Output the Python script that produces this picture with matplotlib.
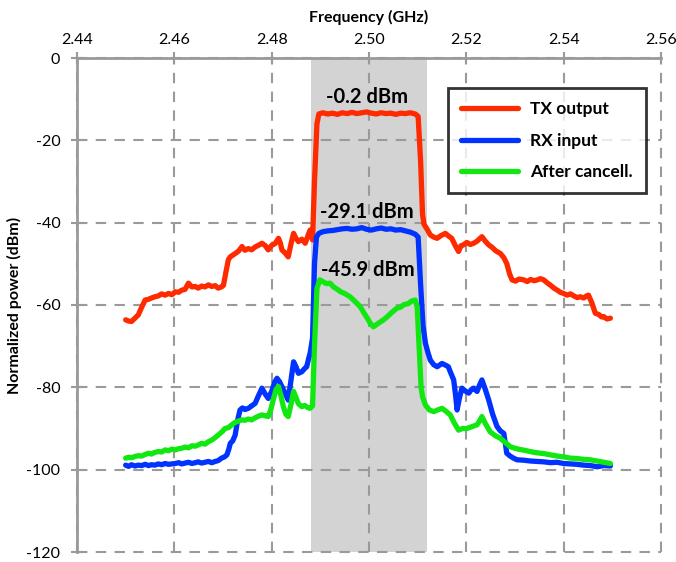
import matplotlib
matplotlib.use("Agg")
import matplotlib.pyplot as plt

# ---------------- data ----------------
tx_freq = [2.4500, 2.4506, 2.4512, 2.4519, 2.4526, 2.4533, 2.4540, 2.4547, 2.4553, 2.4560,
           2.4567, 2.4574, 2.4581, 2.4588, 2.4595, 2.4602, 2.4609, 2.4615, 2.4622, 2.4629,
           2.4636, 2.4643, 2.4649, 2.4656, 2.4663, 2.4670, 2.4677, 2.4684, 2.4690, 2.4697,
           2.4701, 2.4706, 2.4711, 2.4715, 2.4720, 2.4725, 2.4732, 2.4739, 2.4745, 2.4752,
           2.4759, 2.4766, 2.4773, 2.4780, 2.4787, 2.4793, 2.4800, 2.4807, 2.4814, 2.4818,
           2.4821, 2.4828, 2.4834, 2.4840, 2.4845, 2.4850, 2.4855, 2.4862, 2.4869, 2.4875,
           2.4879, 2.4884, 2.4888, 2.4893, 2.4897,
           2.4905, 2.4915, 2.4925, 2.4935, 2.4945, 2.4955, 2.4965, 2.4975, 2.4985, 2.4995,
           2.5005, 2.5015, 2.5025, 2.5035, 2.5045, 2.5055, 2.5065, 2.5075, 2.5085, 2.5095,
           2.5101, 2.5106, 2.5110, 2.5113, 2.5119, 2.5126, 2.5133, 2.5140, 2.5147, 2.5157,
           2.5163, 2.5170, 2.5177, 2.5184, 2.5189, 2.5194, 2.5201, 2.5208, 2.5215, 2.5222,
           2.5232, 2.5239, 2.5246, 2.5253, 2.5260, 2.5270, 2.5277, 2.5283, 2.5289, 2.5294,
           2.5301, 2.5308, 2.5318, 2.5325, 2.5332, 2.5339, 2.5346, 2.5352, 2.5359, 2.5366,
           2.5373, 2.5380, 2.5387, 2.5393, 2.5400, 2.5407, 2.5414, 2.5421, 2.5428, 2.5434,
           2.5441, 2.5447, 2.5451, 2.5458, 2.5465, 2.5472, 2.5478, 2.5482, 2.5489, 2.5496]
tx_power = [-63.6, -63.9, -64.0, -63.2, -62.4, -60.5, -58.8, -58.6, -58.3, -58.0,
            -57.8, -57.3, -57.6, -57.2, -57.5, -56.8, -56.9, -56.4, -56.2, -54.7,
            -55.6, -55.5, -55.9, -55.4, -55.6, -55.1, -55.5, -55.3, -55.9, -55.6,
            -55.2, -52.0, -49.0, -48.3, -47.9, -47.5, -46.9, -45.8, -46.7, -46.3,
            -46.6, -45.9, -45.5, -45.0, -45.6, -46.6, -45.5, -45.1, -43.8, -45.0,
            -46.6, -47.4, -48.3, -45.0, -42.6, -43.8, -44.6, -44.0, -45.0, -43.0,
            -41.8, -44.2, -30.0, -16.0, -13.6,
            -13.3, -13.6, -13.4, -13.7, -13.3, -13.5, -13.2, -13.5, -13.3, -13.1,
            -13.4, -13.6, -13.3, -13.5, -13.4, -13.7, -13.4, -13.5, -13.3, -13.6,
            -14.2, -25.0, -38.0, -40.4, -41.5, -43.0, -43.5, -43.8, -43.2, -42.6,
            -43.2, -43.8, -45.5, -47.0, -45.6, -45.4, -44.8, -45.3, -45.0, -44.5,
            -43.4, -44.5, -45.4, -46.0, -46.8, -47.5, -48.5, -49.9, -52.5, -53.9,
            -54.2, -53.7, -53.9, -54.3, -53.8, -54.1, -53.9, -53.6, -53.9, -54.6,
            -55.2, -55.9, -56.4, -56.9, -57.2, -57.6, -57.3, -57.8, -58.2, -58.0,
            -58.3, -57.8, -57.6, -59.5, -62.0, -62.3, -62.9, -62.8, -63.4, -63.2]

rx_freq = [2.4500, 2.4506, 2.4512, 2.4519, 2.4526, 2.4533, 2.4540, 2.4547, 2.4553, 2.4560,
           2.4567, 2.4574, 2.4581, 2.4588, 2.4595, 2.4602, 2.4609, 2.4615, 2.4622, 2.4629,
           2.4636, 2.4643, 2.4649, 2.4656, 2.4663, 2.4670, 2.4677, 2.4684, 2.4690, 2.4697,
           2.4703, 2.4708, 2.4712, 2.4715, 2.4720, 2.4725, 2.4730, 2.4735, 2.4740, 2.4745,
           2.4752, 2.4759, 2.4766, 2.4773, 2.4780, 2.4786, 2.4793, 2.4800, 2.4806, 2.4811,
           2.4816, 2.4821, 2.4828, 2.4834, 2.4840, 2.4845, 2.4850, 2.4855, 2.4862, 2.4868,
           2.4872, 2.4876, 2.4879, 2.4884, 2.4888, 2.4892, 2.4897,
           2.4905, 2.4915, 2.4925, 2.4935, 2.4945, 2.4955, 2.4965, 2.4975, 2.4985, 2.4995,
           2.5005, 2.5015, 2.5025, 2.5035, 2.5045, 2.5055, 2.5065, 2.5075, 2.5085, 2.5095,
           2.5101, 2.5106, 2.5111, 2.5116, 2.5121, 2.5126, 2.5133, 2.5140, 2.5145, 2.5150,
           2.5157, 2.5163, 2.5168, 2.5174, 2.5178, 2.5181, 2.5186, 2.5191, 2.5198, 2.5205,
           2.5210, 2.5215, 2.5222, 2.5227, 2.5232, 2.5239, 2.5246, 2.5254, 2.5263, 2.5270,
           2.5277, 2.5280, 2.5283, 2.5290, 2.5297, 2.5304, 2.5318, 2.5332, 2.5345, 2.5359,
           2.5373, 2.5386, 2.5400, 2.5414, 2.5427, 2.5441, 2.5455, 2.5469, 2.5482, 2.5496]
rx_power = [-98.9, -99.2, -98.8, -99.1, -98.9, -99.0, -98.7, -99.0, -98.8, -98.9,
            -98.6, -98.8, -98.5, -98.7, -98.6, -98.5, -98.3, -98.6, -98.4, -98.2,
            -98.5, -98.3, -98.1, -98.4, -98.2, -98.0, -98.3, -98.0, -97.8, -97.2,
            -96.9, -96.4, -95.0, -93.6, -93.0, -91.6, -88.0, -85.5, -85.0, -85.4,
            -85.1, -84.5, -83.9, -82.0, -80.2, -81.5, -82.7, -81.0, -78.8, -77.8,
            -78.6, -79.8, -81.5, -83.1, -78.0, -73.8, -75.0, -76.6, -76.2, -75.4,
            -75.0, -73.0, -71.7, -68.0, -50.0, -43.5, -42.6,
            -42.2, -42.0, -41.9, -41.7, -41.5, -41.4, -41.6, -41.5, -41.2, -41.6,
            -41.8, -41.5, -41.3, -41.6, -41.5, -41.8, -41.7, -42.0, -42.3, -42.8,
            -43.5, -55.0, -65.0, -69.3, -71.5, -73.4, -74.5, -75.0, -74.6, -74.2,
            -74.6, -75.0, -76.5, -78.2, -82.0, -85.5, -82.5, -80.2, -80.9, -81.4,
            -80.6, -80.2, -81.0, -79.5, -78.2, -80.5, -83.1, -86.5, -89.5, -90.6,
            -91.2, -93.5, -96.0, -96.7, -97.2, -97.6, -97.7, -97.9, -98.0, -98.1,
            -98.3, -98.2, -98.5, -98.6, -98.7, -98.9, -99.0, -99.3, -99.0, -99.1]

ac_freq = [2.4500, 2.4506, 2.4512, 2.4519, 2.4526, 2.4533, 2.4540, 2.4547, 2.4553, 2.4560,
           2.4567, 2.4574, 2.4581, 2.4588, 2.4595, 2.4602, 2.4609, 2.4615, 2.4622, 2.4629,
           2.4636, 2.4643, 2.4649, 2.4656, 2.4663, 2.4670, 2.4677, 2.4684, 2.4690, 2.4698,
           2.4704, 2.4711, 2.4718, 2.4725, 2.4732, 2.4739, 2.4745, 2.4752, 2.4759, 2.4766,
           2.4773, 2.4780, 2.4786, 2.4793, 2.4798, 2.4804, 2.4809, 2.4814, 2.4819, 2.4824,
           2.4829, 2.4834, 2.4840, 2.4845, 2.4850, 2.4855, 2.4862, 2.4868, 2.4874, 2.4879,
           2.4884, 2.4888, 2.4893, 2.4899, 2.4905, 2.4912, 2.4920, 2.4927, 2.4935, 2.4942,
           2.4950, 2.4961, 2.4970, 2.4982, 2.4990, 2.4997, 2.5003, 2.5009, 2.5015, 2.5022,
           2.5030, 2.5038, 2.5045, 2.5057, 2.5065, 2.5072, 2.5080, 2.5088, 2.5095, 2.5099,
           2.5103, 2.5107, 2.5110, 2.5116, 2.5124, 2.5133, 2.5141, 2.5150, 2.5158, 2.5167,
           2.5175, 2.5184, 2.5192, 2.5201, 2.5208, 2.5215, 2.5222, 2.5228, 2.5232, 2.5240,
           2.5249, 2.5259, 2.5270, 2.5280, 2.5290, 2.5300, 2.5310, 2.5320, 2.5331, 2.5345,
           2.5359, 2.5373, 2.5387, 2.5400, 2.5414, 2.5428, 2.5441, 2.5455, 2.5469, 2.5482,
           2.5496]
ac_power = [-97.2, -97.0, -97.1, -96.8, -96.6, -96.7, -96.3, -96.0, -96.2, -95.8,
            -95.6, -95.7, -95.2, -95.4, -95.0, -95.2, -94.9, -94.8, -94.5, -94.7,
            -94.2, -94.3, -94.0, -93.6, -93.8, -93.2, -92.8, -92.2, -91.6, -90.8,
            -90.0, -89.8, -89.1, -88.5, -88.2, -87.9, -88.0, -87.7, -87.9, -87.4,
            -87.0, -86.7, -86.9, -87.1, -85.5, -82.7, -80.5, -79.8, -82.0, -84.7,
            -86.5, -87.1, -84.0, -81.0, -82.5, -84.0, -84.7, -84.4, -84.9, -85.1,
            -84.5, -70.0, -56.0, -53.9, -54.3, -54.8, -54.7, -55.6, -56.2, -56.8,
            -57.2, -58.0, -59.0, -60.4, -62.0, -63.3, -64.5, -65.3, -64.8, -64.2,
            -63.6, -62.8, -62.0, -60.8, -60.5, -59.9, -59.7, -59.0, -58.8, -60.5,
            -70.0, -80.0, -82.3, -84.3, -85.5, -85.9, -85.5, -85.1, -85.8, -86.7,
            -88.6, -90.4, -90.0, -90.0, -89.7, -89.4, -89.1, -88.0, -87.1, -89.0,
            -90.8, -91.7, -92.4, -93.4, -94.4, -94.8, -95.1, -95.3, -95.6, -95.9,
            -96.1, -96.4, -96.7, -96.9, -97.2, -97.3, -97.5, -97.6, -97.9, -98.2,
            -98.5]

series_labels = ["TX output", "RX input", "After cancell."]
series_colors = ["#ff2a00", "#0033ff", "#11e811"]
band_edges = [2.488, 2.512]
annotations = [("-0.2 dBm", 2.4996, -9.5), ("-29.1 dBm", 2.4996, -37.4), ("-45.9 dBm", 2.4997, -51.5)]
x_ticks = [2.44, 2.46, 2.48, 2.50, 2.52, 2.54, 2.56]
y_ticks = [0, -20, -40, -60, -80, -100, -120]

# ---------------- plot ----------------
plt.rcParams['font.family'] = ['Lato', 'DejaVu Sans']
fig = plt.figure(figsize=(6.76, 5.62), dpi=100)
ax = fig.add_axes([77/676, 1 - 552/562, (661 - 77)/676, (552 - 58)/562])

gray = "#9a9a9a"
ax.axvspan(band_edges[0], band_edges[1], color="#d3d3d3", zorder=0, lw=0)

lw = 3.8
for f, p, c, lab in zip([tx_freq, rx_freq, ac_freq], [tx_power, rx_power, ac_power],
                        series_colors, series_labels):
    ax.plot(f, p, color=c, lw=lw, solid_joinstyle="round", solid_capstyle="round",
            zorder=3, label=lab)

ax.set_xlim(2.44, 2.56)
ax.set_ylim(-120, 0)
ax.set_xticks(x_ticks)
ax.set_xticklabels([f"{v:.2f}" for v in x_ticks])
ax.set_yticks(y_ticks)
ax.set_yticklabels([str(v) for v in y_ticks])
ax.xaxis.tick_top()
ax.xaxis.set_label_position("top")
ax.tick_params(axis="both", direction="inout", length=8, width=1.5, color=gray,
               labelsize=11.5)
ax.tick_params(axis="y", pad=8)
ax.tick_params(axis="x", pad=4)

ax.grid(True, color=gray, lw=1.5, ls=(0, (5, 4)), zorder=1)
for gl in ax.get_xgridlines() + ax.get_ygridlines():
    gl.set_zorder(1)
    gl.set_clip_on(False)

for side in ["right", "bottom"]:
    ax.spines[side].set_visible(False)
for side in ["left", "top"]:
    ax.spines[side].set_color(gray)
    ax.spines[side].set_linewidth(2.0)
    ax.spines[side].set_zorder(2)

ax.set_xlabel("Frequency (GHz)", fontsize=11.5, fontweight="bold", labelpad=8)
ax.set_ylabel("Normalized power (dBm)", fontsize=11.5, fontweight="bold", labelpad=3)

for text, x, y in annotations:
    ax.text(x, y, text, ha="center", va="center", fontsize=14.5, fontweight="bold",
            color="black", zorder=5)

leg = ax.legend(loc="upper left", bbox_to_anchor=(448/676, 1 - 88/562),
                bbox_transform=fig.transFigure, fontsize=12.5, frameon=True,
                fancybox=False, edgecolor="black", handlelength=3.3,
                labelspacing=0.9, borderpad=0.75, handletextpad=0.7, borderaxespad=0)
leg.get_frame().set_linewidth(2.0)
for t in leg.get_texts():
    t.set_fontweight("bold")
leg.set_zorder(6)

fig.savefig("out.png", dpi=100)
